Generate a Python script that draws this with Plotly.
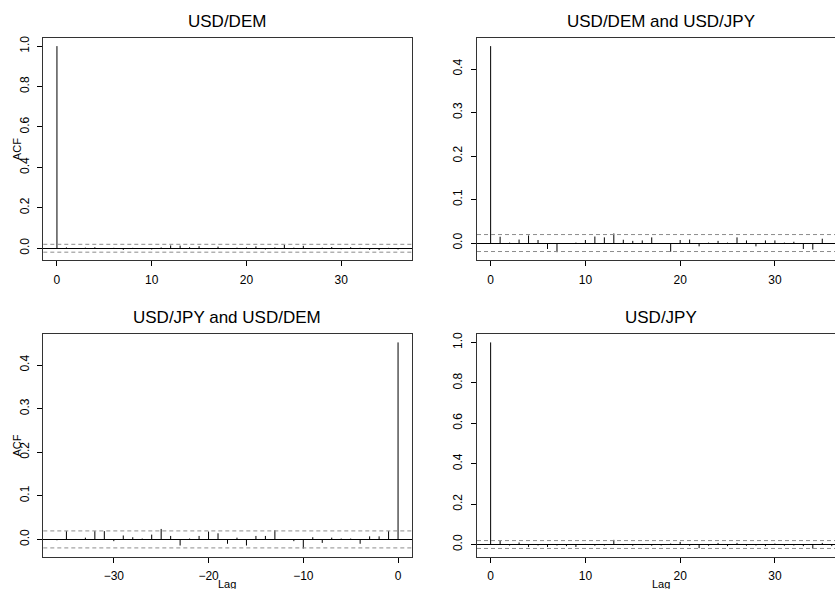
import plotly.graph_objects as go

# ---------------- data ----------------
lags_pos = list(range(0, 37))
lags_neg = list(range(-36, 1))

acf_usd_dem = [1.0, 0.004, -0.002, 0.003, 0.005, -0.002, 0.002, -0.008, 0.002, -0.003,
               -0.006, 0.004, 0.014, 0.013, 0.005, 0.010, -0.004, 0.008, -0.003, 0.003,
               0.004, 0.009, -0.006, 0.004, 0.016, 0.003, 0.012, -0.002, 0.003, 0.006,
               -0.005, 0.005, 0.002, -0.008, -0.009, 0.002, -0.006]

ccf_dem_jpy = [0.4526, 0.0145, 0.001, 0.008, 0.0175, 0.007, -0.0137, -0.021, -0.002, 0.001,
               0.007, 0.015, 0.013, 0.022, 0.0076, 0.005, 0.006, 0.013, -0.002, -0.020,
               0.007, 0.008, -0.0076, 0.001, 0.005, 0.001, 0.013, 0.006, -0.0076, 0.006,
               0.006, 0.001, 0.003, -0.0137, -0.015, 0.010, -0.002]

# lags -36 .. 0
ccf_jpy_dem = [-0.002, 0.019, 0.001, 0.004, 0.019, 0.019, -0.004, 0.009, 0.005, 0.002,
               0.011, 0.024, 0.008, -0.014, 0.002, 0.008, 0.018, 0.014, -0.010, 0.004,
               -0.014, 0.008, 0.008, 0.021, -0.001, -0.004, -0.021, 0.005, -0.008, 0.004,
               0.002, 0.002, -0.010, 0.007, 0.007, 0.019, 0.452]

acf_usd_jpy = [1.0, 0.018, -0.005, 0.010, -0.012, -0.005, -0.012, -0.005, -0.008, -0.012,
               0.003, -0.006, -0.005, 0.023, -0.003, -0.006, -0.003, -0.006, -0.005, 0.005,
               0.013, -0.006, -0.018, -0.006, 0.008, -0.008, 0.008, -0.006, -0.005, -0.008,
               0.005, -0.006, -0.005, -0.008, -0.020, 0.008, -0.008]

ci = 0.0195

titles = ["USD/DEM", "USD/DEM and USD/JPY", "USD/JPY and USD/DEM", "USD/JPY"]
x_ticks_pos = [0, 10, 20, 30]
x_ticks_neg = [-30, -20, -10, 0]
y_ticks_acf = [0.0, 0.2, 0.4, 0.6, 0.8, 1.0]
y_ticks_ccf = [0.0, 0.1, 0.2, 0.3, 0.4]

# ---------------- layout geometry (pixels) ----------------
W, H = 835, 589
FONT = "Liberation Sans, Arial, Helvetica, sans-serif"
LEFT_BOX = (43.3, 411.7)
RIGHT_BOX = (477.0, 835.0)
TOP_BOX = (36.0, 259.3)
BOT_BOX = (333.3, 556.7)


def px(p):
    return p / W


def py(p):
    return 1 - p / H


def xrange_for(lags):
    lo, hi = min(lags), max(lags)
    pad = 0.04 * (hi - lo)
    return [lo - pad, hi + pad]


def yrange_for(vals):
    lo = min(min(vals), -ci)
    hi = max(max(vals), ci)
    pad = 0.04 * (hi - lo)
    return [lo - pad, hi + pad]


panels = [
    dict(lags=lags_pos, vals=acf_usd_dem, xb=LEFT_BOX, yb=TOP_BOX, xt=x_ticks_pos, yt=y_ticks_acf, right=False),
    dict(lags=lags_pos, vals=ccf_dem_jpy, xb=RIGHT_BOX, yb=TOP_BOX, xt=x_ticks_pos, yt=y_ticks_ccf, right=True),
    dict(lags=lags_neg, vals=ccf_jpy_dem, xb=LEFT_BOX, yb=BOT_BOX, xt=x_ticks_neg, yt=y_ticks_ccf, right=False),
    dict(lags=lags_pos, vals=acf_usd_jpy, xb=RIGHT_BOX, yb=BOT_BOX, xt=x_ticks_pos, yt=y_ticks_acf, right=True),
]

fig = go.Figure()
layout = dict(
    width=W, height=H, margin=dict(l=0, r=0, t=0, b=0),
    paper_bgcolor="white", plot_bgcolor="white", showlegend=False,
    font=dict(family=FONT, color="black"),
)
shapes = []
annotations = []

full_w = LEFT_BOX[1] - LEFT_BOX[0]

for i, p in enumerate(panels):
    n = "" if i == 0 else str(i + 1)
    xr = xrange_for(p["lags"])
    if p["right"]:
        # the figure is cropped on the right: keep same scale, cut range
        pxu = full_w / (xr[1] - xr[0])
        xr = [xr[0], xr[0] + (p["xb"][1] - p["xb"][0]) / pxu]
    yr = yrange_for(p["vals"])

    xs, ys = [], []
    for k, v in zip(p["lags"], p["vals"]):
        xs += [k, k, None]
        ys += [0, v, None]
    fig.add_trace(go.Scatter(x=xs, y=ys, mode="lines", line=dict(color="black", width=1),
                             xaxis="x" + n, yaxis="y" + n, hoverinfo="skip"))

    layout["xaxis" + n] = dict(
        domain=[px(p["xb"][0]), px(p["xb"][1])], range=xr, anchor="y" + n,
        tickvals=p["xt"], showgrid=False, zeroline=False,
        showline=True, linecolor="#333", linewidth=1, mirror=True,
        ticks="outside", ticklen=5, tickcolor="black", tickwidth=1,
        tickfont=dict(size=12, family=FONT), ticklabelstandoff=3,
    )
    layout["yaxis" + n] = dict(
        domain=[py(p["yb"][1]), py(p["yb"][0])], range=yr, anchor="x" + n,
        tickvals=p["yt"], tickformat=".1f", tickangle=-90, showgrid=False,
        zeroline=True, zerolinecolor="black", zerolinewidth=1,
        showline=True, linecolor="#333", linewidth=1, mirror=not p["right"],
        ticks="outside", ticklen=5, tickcolor="black", tickwidth=1,
        tickfont=dict(size=12, family=FONT), ticklabelstandoff=4,
    )
    for s in (ci, -ci):
        shapes.append(dict(type="line", xref="x" + n + " domain", yref="y" + n,
                           x0=0, x1=1, y0=s, y1=s,
                           line=dict(color="#8c8c8c", width=1, dash="4px,3px")))

    cx = (p["xb"][0] + p["xb"][0] + full_w) / 2
    annotations.append(dict(text=titles[i], xref="paper", yref="paper",
                            x=px(cx), y=py(p["yb"][0] - 16.5), xanchor="center", yanchor="middle",
                            showarrow=False, font=dict(size=17, family=FONT, color="black")))
    if not p["right"]:
        annotations.append(dict(text="ACF", xref="paper", yref="paper",
                                x=px(17), y=py((p["yb"][0] + p["yb"][1]) / 2),
                                xanchor="center", yanchor="middle", textangle=-90,
                                showarrow=False, font=dict(size=11, family=FONT, color="black")))
    if p["yb"] == BOT_BOX:
        annotations.append(dict(text="Lag", xref="paper", yref="paper",
                                x=px(cx), y=py(583.5), xanchor="center", yanchor="middle",
                                showarrow=False, font=dict(size=11, family=FONT, color="black")))

layout["shapes"] = shapes
layout["annotations"] = annotations
fig.update_layout(**layout)
fig.write_html("out.html")
